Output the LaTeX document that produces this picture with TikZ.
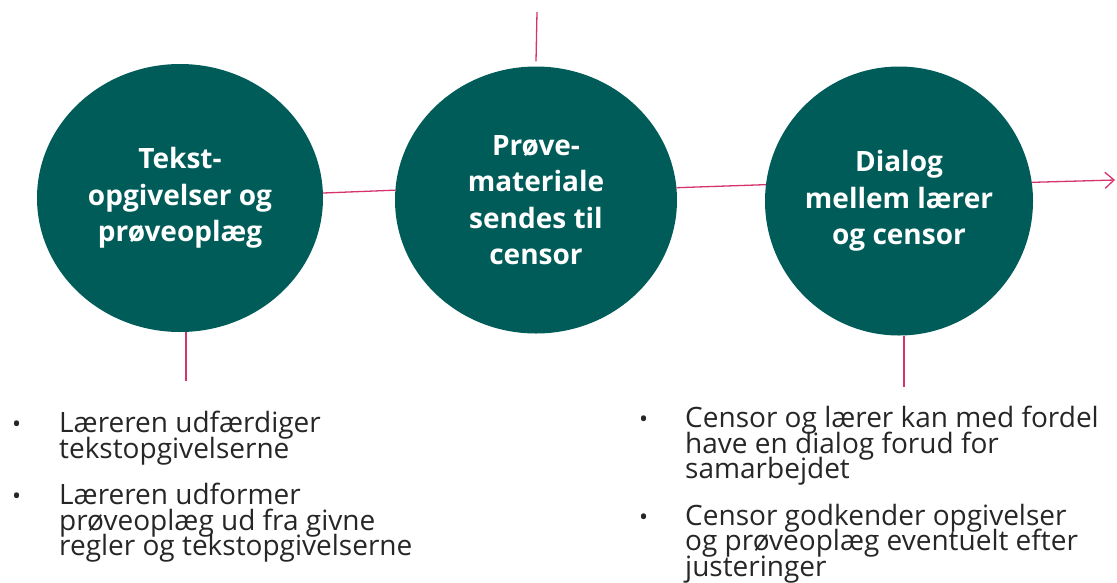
\documentclass[tikz,border=0pt]{standalone}
\usepackage{fontspec}
\setmainfont{Open Sans}
\usetikzlibrary{shapes.geometric,arrows.meta}
\definecolor{stageteal}{RGB}{0,92,88}
\definecolor{linkred}{RGB}{214,50,110}
\definecolor{listgray}{RGB}{38,38,38}
\newcommand\listfont{\fontsize{28}{25.5}\selectfont\lineskiplimit=-20pt\relax}

\begin{document}
\begin{tikzpicture}[x=1pt,y=-1pt,
  stage/.style={ellipse,fill=stageteal,inner sep=0pt,align=center,text=white,font=\fontsize{28}{36.5}\selectfont\bfseries},
  link/.style={draw=linkred,line width=1.3pt},
  dot/.style={anchor=base west,inner sep=0pt,text=listgray,font=\fontsize{24}{24}\selectfont},
  item/.style={anchor=north west,align=left,inner sep=0pt,text=listgray,font=\listfont}]
  \useasboundingbox (0,0) rectangle (1117,582);
  % the three stages
  \node[stage,minimum width=286pt,minimum height=268pt] at (180,198) (tekst) {Tekst-\\opgivelser og\\prøveoplæg};
  \node[stage,minimum width=282pt,minimum height=267pt] at (536,200) (prove) {Prøve-\\materiale\\sendes til\\censor};
  \node[stage,minimum width=268pt,minimum height=269pt] at (899,201) (dialog) {Dialog\\mellem lærer\\og censor};
  % connectors
  \coordinate (provetop) at (537,12);
  \coordinate (tekstend) at (186,381);
  \coordinate (dialogend) at (904,387);
  \coordinate (out) at (1115,180);
  \draw[link] (tekst.2) -- (prove.176);
  \draw[link] (prove.5) -- (dialog.173);
  \draw[link,-{Straight Barb[length=9pt,width=16pt]}] (dialog.8) -- (out);
  \draw[link] (provetop) -- ([yshift=5pt]prove.north);
  \draw[link] (tekstend |- tekst.south) -- (tekstend);
  \draw[link] (dialogend |- dialog.south) -- (dialogend);
  % left list
  \node[dot] at (12,432) (d1) {•};
  \node[item] at (59,411) (t1) {Læreren udfærdiger\\tekstopgivelserne};
  \node[dot] at (12,504) (d2) {•};
  \node[item] at (59,483) (t2) {Læreren udformer\\prøveoplæg ud fra givne\\regler og tekstopgivelserne};
  % right list
  \node[dot] at (639,427) (d3) {•};
  \node[item] at (685,406) (t3) {Censor og lærer kan med fordel\\have en dialog forud for\\samarbejdet};
  \node[dot] at (639,525) (d4) {•};
  \node[item] at (685,504) (t4) {Censor godkender opgivelser\\og prøveoplæg eventuelt efter\\justeringer};
\end{tikzpicture}
\end{document}
